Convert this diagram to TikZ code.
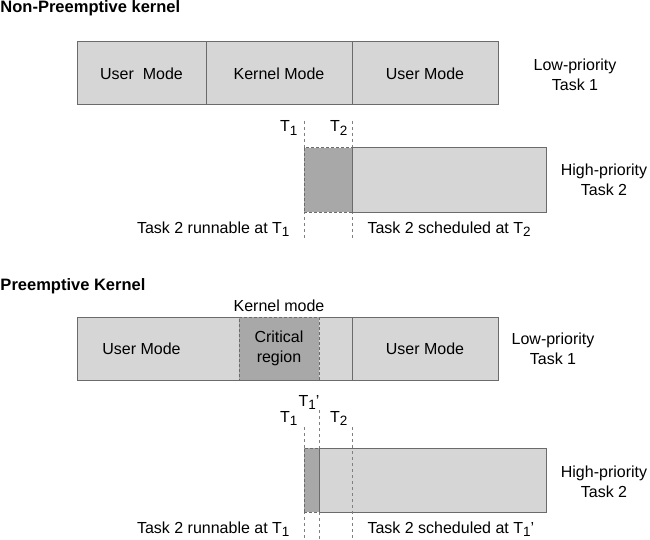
\documentclass[tikz,border=0pt]{standalone}
\usepackage{fontspec}
\setmainfont{Liberation Sans}
\definecolor{modefill}{gray}{0.84}
\definecolor{critfill}{gray}{0.66}
\definecolor{edgegray}{gray}{0.42}
\definecolor{guidegray}{gray}{0.5}
\tikzset{
  mode/.style={draw=edgegray, fill=modefill, anchor=north west, inner sep=0pt, outer sep=0pt, minimum height=63pt, align=center},
  gapseg/.style={mode, draw=none},
  crit/.style={mode, fill=critfill, dash pattern=on 3pt off 2pt},
  guide/.style={draw=guidegray, dash pattern=on 3pt off 3pt},
  heading/.style={anchor=base west, inner sep=0pt, font=\fontsize{16.5}{20}\selectfont\bfseries},
  side/.style={align=center, inner sep=0pt},
  tlabel/.style={anchor=base east, inner sep=0pt},
  note/.style={inner sep=0pt}
}
\newcommand{\Tsub}[1]{T\raisebox{-3.5pt}{\fontsize{13.5}{14}\selectfont #1}}
\begin{document}
\begin{tikzpicture}[x=1pt, y=-1pt, line width=1pt, font=\fontsize{16}{20}\selectfont]
    \useasboundingbox (0,0) rectangle (650,540);

    % non-preemptive kernel
    \node[heading] (npktitle) at (0,13) {Non-Preemptive kernel};
    \node[mode, minimum width=129pt] (user1) at (77,42) {User\ \ Mode};
    \node[mode, minimum width=146pt] (kern1) at (user1.north east) {Kernel Mode};
    \node[mode, minimum width=146pt] (user2) at (kern1.north east) {User Mode};
    \node[side] (low1) at (575,75) {Low-priority\\Task 1};

    \node[tlabel] (t1a) at (298,132) {\Tsub{1}};
    \node[tlabel] (t2a) at (348,132) {\Tsub{2}};
    \coordinate (g1top) at (304,121);
    \coordinate (g1bot) at (304,238);
    \coordinate (g2top) at (352,121);
    \coordinate (g2bot) at (352,238);
    \draw[guide] (g1top) -- (g1bot);
    \draw[guide] (g2top) -- (g2bot);

    \node[crit, minimum width=48pt, minimum height=64pt] (wait1) at (304,148) {};
    \node[mode, minimum width=194pt, minimum height=64pt] (run1) at (wait1.north east) {};
    \node[side] (high1) at (604,180) {High-priority\\Task 2};
    \node[note, anchor=base east] (ready1) at (290,233) {Task 2 runnable at \Tsub{1}};
    \node[note, anchor=base west] (sched1) at (367,233) {Task 2 scheduled at \Tsub{2}};

    % preemptive kernel
    \node[heading] (pktitle) at (0,290) {Preemptive Kernel};
    \node[mode, minimum width=129pt] (user3) at (77,317) {User Mode};
    \node[gapseg, minimum width=33pt] (gapa) at (user3.north east) {};
    \node[gapseg, minimum width=33pt] (gapb) at (319,317) {};
    \node[mode, minimum width=146pt] (user4) at (gapb.north east) {User Mode};
    \draw[edgegray] (gapa.north west) -- (gapb.north east) (gapa.south west) -- (gapb.south east);
    \node[crit, minimum width=80pt] (crit2) at (gapa.north east) {Critical\\region};
    \node[note, anchor=south] (kmode) at (crit2.north) [yshift=5pt] {Kernel mode};
    \node[side] (low2) at (553,349) {Low-priority\\Task 1};

    \node[tlabel] (t1b) at (298,422) {\Tsub{1}};
    \node[tlabel] (t1p) at (320,406) {\Tsub{1}'};
    \node[tlabel] (t2b) at (348,422) {\Tsub{2}};
    \coordinate (g3top) at (304,427);
    \coordinate (g3bot) at (304,540);
    \coordinate (g4top) at (319,410);
    \coordinate (g4bot) at (319,540);
    \coordinate (g5top) at (352,427);
    \coordinate (g5bot) at (352,540);
    \draw[guide] (g3top) -- (g3bot);
    \draw[guide] (g4top) -- (g4bot);

    \node[crit, minimum width=15pt, minimum height=64pt] (wait2) at (304,448) {};
    \node[mode, minimum width=227pt, minimum height=64pt] (run2) at (wait2.north east) {};
    \draw[guide] (g5top) -- (g5bot);
    \node[side] (high2) at (604,482) {High-priority\\Task 2};
    \node[note, anchor=base east] (ready2) at (290,533) {Task 2 runnable at \Tsub{1}};
    \node[note, anchor=base west] (sched2) at (367,533) {Task 2 scheduled at \Tsub{1}'};
\end{tikzpicture}
\end{document}
